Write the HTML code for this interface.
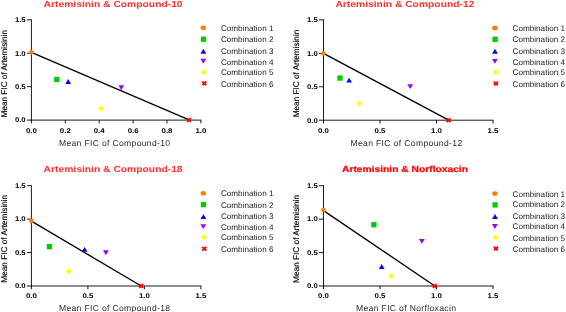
<!DOCTYPE html>
<html><head><meta charset="utf-8"><title>FIC isobolograms</title>
<style>
html,body{margin:0;padding:0;background:#fff;}
svg{display:block;filter:blur(0.35px);}
text{font-family:"Liberation Sans",sans-serif;text-rendering:geometricPrecision;}
.t{font-size:8.8px;font-weight:bold;fill:#ff3030;}
.t2{fill:#ff0000;stroke:#ff0000;stroke-width:0.2px;}
.k{font-size:6.8px;font-weight:bold;fill:#000;}
.l{font-size:8.6px;fill:#2a2a2a;}
.y{font-size:8.3px;fill:#000;stroke:#000;stroke-width:0.15px;}
.g{font-size:8.1px;fill:#222;}
.ax{stroke:#000;stroke-width:0.9;fill:none;}
</style></head><body>
<svg width="566" height="312" viewBox="0 0 566 312">
<rect width="566" height="312" fill="#fff"/>
<g><text x="43.6" y="6.80" class="t" textLength="139" lengthAdjust="spacingAndGlyphs">Artemisinin &amp; Compound-10</text>
<rect x="54.18" y="76.86" width="5.3" height="5.3" fill="#00cc00"/>
<path d="M65.28 83.95L71.08 83.95L68.18 79.05Z" fill="#0000ff"/>
<path d="M118.34 85.37L124.14 85.37L121.24 90.27Z" fill="#9900ff"/>
<path d="M97.79 108.40L100.89 105.65L103.99 108.40L100.89 111.15Z" fill="#ffff00"/>
<path d="M31.40 19.30V120.60M30.90 120.10H201.40" class="ax"/>
<path d="M26.90 120.10H31.40" class="ax"/>
<text x="25.70" y="122.45" class="k" text-anchor="end" textLength="10.8" lengthAdjust="spacingAndGlyphs">0.0</text>
<path d="M26.90 86.67H31.40" class="ax"/>
<text x="25.70" y="89.02" class="k" text-anchor="end" textLength="10.8" lengthAdjust="spacingAndGlyphs">0.5</text>
<path d="M26.90 53.23H31.40" class="ax"/>
<text x="25.70" y="55.58" class="k" text-anchor="end" textLength="10.8" lengthAdjust="spacingAndGlyphs">1.0</text>
<path d="M26.90 19.80H31.40" class="ax"/>
<text x="25.70" y="22.15" class="k" text-anchor="end" textLength="10.8" lengthAdjust="spacingAndGlyphs">1.5</text>
<path d="M31.40 120.10V123.40" class="ax"/>
<text x="31.40" y="132.75" class="k" text-anchor="middle" textLength="10.9" lengthAdjust="spacingAndGlyphs">0.0</text>
<path d="M65.30 120.10V123.40" class="ax"/>
<text x="65.30" y="132.75" class="k" text-anchor="middle" textLength="10.9" lengthAdjust="spacingAndGlyphs">0.2</text>
<path d="M99.20 120.10V123.40" class="ax"/>
<text x="99.20" y="132.75" class="k" text-anchor="middle" textLength="10.9" lengthAdjust="spacingAndGlyphs">0.4</text>
<path d="M133.10 120.10V123.40" class="ax"/>
<text x="133.10" y="132.75" class="k" text-anchor="middle" textLength="10.9" lengthAdjust="spacingAndGlyphs">0.6</text>
<path d="M167.00 120.10V123.40" class="ax"/>
<text x="167.00" y="132.75" class="k" text-anchor="middle" textLength="10.9" lengthAdjust="spacingAndGlyphs">0.8</text>
<path d="M200.90 120.10V123.40" class="ax"/>
<text x="200.90" y="132.75" class="k" text-anchor="middle" textLength="10.9" lengthAdjust="spacingAndGlyphs">1.0</text>
<path d="M31.40 52.36L189.71 120.10" stroke="#000" stroke-width="1.35" fill="none"/>
<circle cx="31.40" cy="52.23" r="2.3" fill="#ff7f00"/>
<path d="M187.04 118.30L191.04 121.90M187.04 121.90L191.04 118.30" stroke="#ff0000" stroke-width="1.9" fill="none"/>
<text x="58.9" y="145.75" class="l" textLength="111.2" lengthAdjust="spacing">Mean FIC of Compound-10</text>
<text transform="translate(6.9 117.40) rotate(-90)" class="y" textLength="87.4" lengthAdjust="spacingAndGlyphs">Mean FIC of Artemisinin</text>
<ellipse cx="203.30" cy="27.80" rx="2.75" ry="2.3" fill="#ff7f00"/>
<text x="220.90" y="30.80" class="g" textLength="52.6" lengthAdjust="spacingAndGlyphs">Combination 1</text>
<rect x="200.85" y="36.55" width="5.3" height="5.3" fill="#00cc00"/>
<text x="220.90" y="42.30" class="g" textLength="52.6" lengthAdjust="spacingAndGlyphs">Combination 2</text>
<path d="M200.50 53.65L206.30 53.65L203.40 48.75Z" fill="#0000ff"/>
<text x="220.90" y="53.90" class="g" textLength="52.6" lengthAdjust="spacingAndGlyphs">Combination 3</text>
<path d="M200.40 58.80L206.20 58.80L203.30 63.70Z" fill="#9900ff"/>
<text x="220.90" y="64.50" class="g" textLength="52.6" lengthAdjust="spacingAndGlyphs">Combination 4</text>
<path d="M201.00 72.20L204.10 69.45L207.20 72.20L204.10 74.95Z" fill="#ffff00"/>
<text x="220.90" y="74.90" class="g" textLength="52.6" lengthAdjust="spacingAndGlyphs">Combination 5</text>
<path d="M202.30 81.50L206.30 85.10M202.30 85.10L206.30 81.50" stroke="#ff0000" stroke-width="1.9" fill="none"/>
<text x="220.90" y="86.70" class="g" textLength="52.6" lengthAdjust="spacingAndGlyphs">Combination 6</text></g>
<g><text x="335.4" y="6.90" class="t" textLength="139" lengthAdjust="spacingAndGlyphs">Artemisinin &amp; Compound-12</text>
<rect x="337.35" y="75.42" width="5.3" height="5.3" fill="#00cc00"/>
<path d="M346.25 82.58L352.05 82.58L349.15 77.68Z" fill="#0000ff"/>
<path d="M407.27 84.13L413.07 84.13L410.17 89.03Z" fill="#9900ff"/>
<path d="M356.22 103.28L359.32 100.53L362.42 103.28L359.32 106.03Z" fill="#ffff00"/>
<path d="M323.50 19.40V120.70M323.00 120.20H493.50" class="ax"/>
<path d="M319.00 120.20H323.50" class="ax"/>
<text x="317.80" y="122.55" class="k" text-anchor="end" textLength="10.8" lengthAdjust="spacingAndGlyphs">0.0</text>
<path d="M319.00 86.77H323.50" class="ax"/>
<text x="317.80" y="89.12" class="k" text-anchor="end" textLength="10.8" lengthAdjust="spacingAndGlyphs">0.5</text>
<path d="M319.00 53.33H323.50" class="ax"/>
<text x="317.80" y="55.68" class="k" text-anchor="end" textLength="10.8" lengthAdjust="spacingAndGlyphs">1.0</text>
<path d="M319.00 19.90H323.50" class="ax"/>
<text x="317.80" y="22.25" class="k" text-anchor="end" textLength="10.8" lengthAdjust="spacingAndGlyphs">1.5</text>
<path d="M323.50 120.20V123.50" class="ax"/>
<text x="323.50" y="132.85" class="k" text-anchor="middle" textLength="10.9" lengthAdjust="spacingAndGlyphs">0.0</text>
<path d="M380.00 120.20V123.50" class="ax"/>
<text x="380.00" y="132.85" class="k" text-anchor="middle" textLength="10.9" lengthAdjust="spacingAndGlyphs">0.5</text>
<path d="M436.50 120.20V123.50" class="ax"/>
<text x="436.50" y="132.85" class="k" text-anchor="middle" textLength="10.9" lengthAdjust="spacingAndGlyphs">1.0</text>
<path d="M493.00 120.20V123.50" class="ax"/>
<text x="493.00" y="132.85" class="k" text-anchor="middle" textLength="10.9" lengthAdjust="spacingAndGlyphs">1.5</text>
<path d="M323.50 53.33L448.70 120.20" stroke="#000" stroke-width="1.35" fill="none"/>
<circle cx="323.50" cy="53.33" r="2.3" fill="#ff7f00"/>
<path d="M446.70 118.40L450.70 122.00M446.70 122.00L450.70 118.40" stroke="#ff0000" stroke-width="1.9" fill="none"/>
<text x="350.4" y="145.85" class="l" textLength="111.8" lengthAdjust="spacing">Mean FIC of Compound-12</text>
<text transform="translate(298.6 117.30) rotate(-90)" class="y" textLength="87.6" lengthAdjust="spacingAndGlyphs">Mean FIC of Artemisinin</text>
<ellipse cx="494.90" cy="27.90" rx="2.75" ry="2.3" fill="#ff7f00"/>
<text x="512.50" y="30.90" class="g" textLength="52.6" lengthAdjust="spacingAndGlyphs">Combination 1</text>
<rect x="492.45" y="36.65" width="5.3" height="5.3" fill="#00cc00"/>
<text x="512.50" y="42.40" class="g" textLength="52.6" lengthAdjust="spacingAndGlyphs">Combination 2</text>
<path d="M492.10 53.75L497.90 53.75L495.00 48.85Z" fill="#0000ff"/>
<text x="512.50" y="54.00" class="g" textLength="52.6" lengthAdjust="spacingAndGlyphs">Combination 3</text>
<path d="M492.00 58.90L497.80 58.90L494.90 63.80Z" fill="#9900ff"/>
<text x="512.50" y="64.60" class="g" textLength="52.6" lengthAdjust="spacingAndGlyphs">Combination 4</text>
<path d="M492.60 72.30L495.70 69.55L498.80 72.30L495.70 75.05Z" fill="#ffff00"/>
<text x="512.50" y="75.00" class="g" textLength="52.6" lengthAdjust="spacingAndGlyphs">Combination 5</text>
<path d="M493.90 81.60L497.90 85.20M493.90 85.20L497.90 81.60" stroke="#ff0000" stroke-width="1.9" fill="none"/>
<text x="512.50" y="86.80" class="g" textLength="52.6" lengthAdjust="spacingAndGlyphs">Combination 6</text></g>
<g><text x="43.6" y="172.00" class="t" textLength="139" lengthAdjust="spacingAndGlyphs">Artemisinin &amp; Compound-18</text>
<rect x="46.72" y="244.03" width="5.3" height="5.3" fill="#00cc00"/>
<path d="M81.72 251.86L87.52 251.86L84.62 246.96Z" fill="#0000ff"/>
<path d="M102.97 250.27L108.77 250.27L105.87 255.17Z" fill="#9900ff"/>
<path d="M65.48 271.29L68.58 268.54L71.68 271.29L68.58 274.04Z" fill="#ffff00"/>
<path d="M31.40 185.20V286.50M30.90 286.00H201.40" class="ax"/>
<path d="M26.90 286.00H31.40" class="ax"/>
<text x="25.70" y="288.35" class="k" text-anchor="end" textLength="10.8" lengthAdjust="spacingAndGlyphs">0.0</text>
<path d="M26.90 252.57H31.40" class="ax"/>
<text x="25.70" y="254.92" class="k" text-anchor="end" textLength="10.8" lengthAdjust="spacingAndGlyphs">0.5</text>
<path d="M26.90 219.13H31.40" class="ax"/>
<text x="25.70" y="221.48" class="k" text-anchor="end" textLength="10.8" lengthAdjust="spacingAndGlyphs">1.0</text>
<path d="M26.90 185.70H31.40" class="ax"/>
<text x="25.70" y="188.05" class="k" text-anchor="end" textLength="10.8" lengthAdjust="spacingAndGlyphs">1.5</text>
<path d="M31.40 286.00V289.30" class="ax"/>
<text x="31.40" y="298.05" class="k" text-anchor="middle" textLength="10.9" lengthAdjust="spacingAndGlyphs">0.0</text>
<path d="M87.90 286.00V289.30" class="ax"/>
<text x="87.90" y="298.05" class="k" text-anchor="middle" textLength="10.9" lengthAdjust="spacingAndGlyphs">0.5</text>
<path d="M144.40 286.00V289.30" class="ax"/>
<text x="144.40" y="298.05" class="k" text-anchor="middle" textLength="10.9" lengthAdjust="spacingAndGlyphs">1.0</text>
<path d="M200.90 286.00V289.30" class="ax"/>
<text x="200.90" y="298.05" class="k" text-anchor="middle" textLength="10.9" lengthAdjust="spacingAndGlyphs">1.5</text>
<path d="M31.40 221.14L141.24 286.00" stroke="#000" stroke-width="1.35" fill="none"/>
<circle cx="31.40" cy="220.81" r="2.3" fill="#ff7f00"/>
<path d="M139.24 284.20L143.24 287.80M139.24 287.80L143.24 284.20" stroke="#ff0000" stroke-width="1.9" fill="none"/>
<text x="58.9" y="311.05" class="l" textLength="111.2" lengthAdjust="spacing">Mean FIC of Compound-18</text>
<text transform="translate(6.9 282.70) rotate(-90)" class="y" textLength="87.9" lengthAdjust="spacingAndGlyphs">Mean FIC of Artemisinin</text>
<ellipse cx="203.30" cy="193.20" rx="2.75" ry="2.3" fill="#ff7f00"/>
<text x="220.90" y="196.20" class="g" textLength="52.6" lengthAdjust="spacingAndGlyphs">Combination 1</text>
<rect x="200.85" y="201.95" width="5.3" height="5.3" fill="#00cc00"/>
<text x="220.90" y="207.70" class="g" textLength="52.6" lengthAdjust="spacingAndGlyphs">Combination 2</text>
<path d="M200.50 219.05L206.30 219.05L203.40 214.15Z" fill="#0000ff"/>
<text x="220.90" y="219.30" class="g" textLength="52.6" lengthAdjust="spacingAndGlyphs">Combination 3</text>
<path d="M200.40 224.20L206.20 224.20L203.30 229.10Z" fill="#9900ff"/>
<text x="220.90" y="229.90" class="g" textLength="52.6" lengthAdjust="spacingAndGlyphs">Combination 4</text>
<path d="M201.00 237.60L204.10 234.85L207.20 237.60L204.10 240.35Z" fill="#ffff00"/>
<text x="220.90" y="240.30" class="g" textLength="52.6" lengthAdjust="spacingAndGlyphs">Combination 5</text>
<path d="M202.30 246.90L206.30 250.50M202.30 250.50L206.30 246.90" stroke="#ff0000" stroke-width="1.9" fill="none"/>
<text x="220.90" y="252.10" class="g" textLength="52.6" lengthAdjust="spacingAndGlyphs">Combination 6</text></g>
<g><text x="342" y="172.20" class="t t2" textLength="126" lengthAdjust="spacingAndGlyphs">Artemisinin &amp; Norfloxacin</text>
<rect x="371.25" y="222.10" width="5.3" height="5.3" fill="#00cc00"/>
<path d="M378.80 268.98L384.59 268.98L381.69 264.08Z" fill="#0000ff"/>
<path d="M418.91 238.90L424.71 238.90L421.81 243.80Z" fill="#9900ff"/>
<path d="M388.20 276.30L391.30 273.55L394.40 276.30L391.30 279.05Z" fill="#ffff00"/>
<path d="M323.50 185.20V286.50M323.00 286.00H493.50" class="ax"/>
<path d="M319.00 286.00H323.50" class="ax"/>
<text x="317.80" y="288.35" class="k" text-anchor="end" textLength="10.8" lengthAdjust="spacingAndGlyphs">0.0</text>
<path d="M319.00 252.57H323.50" class="ax"/>
<text x="317.80" y="254.92" class="k" text-anchor="end" textLength="10.8" lengthAdjust="spacingAndGlyphs">0.5</text>
<path d="M319.00 219.13H323.50" class="ax"/>
<text x="317.80" y="221.48" class="k" text-anchor="end" textLength="10.8" lengthAdjust="spacingAndGlyphs">1.0</text>
<path d="M319.00 185.70H323.50" class="ax"/>
<text x="317.80" y="188.05" class="k" text-anchor="end" textLength="10.8" lengthAdjust="spacingAndGlyphs">1.5</text>
<path d="M323.50 286.00V289.30" class="ax"/>
<text x="323.50" y="298.05" class="k" text-anchor="middle" textLength="10.9" lengthAdjust="spacingAndGlyphs">0.0</text>
<path d="M380.00 286.00V289.30" class="ax"/>
<text x="380.00" y="298.05" class="k" text-anchor="middle" textLength="10.9" lengthAdjust="spacingAndGlyphs">0.5</text>
<path d="M436.50 286.00V289.30" class="ax"/>
<text x="436.50" y="298.05" class="k" text-anchor="middle" textLength="10.9" lengthAdjust="spacingAndGlyphs">1.0</text>
<path d="M493.00 286.00V289.30" class="ax"/>
<text x="493.00" y="298.05" class="k" text-anchor="middle" textLength="10.9" lengthAdjust="spacingAndGlyphs">1.5</text>
<path d="M323.50 210.57L434.81 286.00" stroke="#000" stroke-width="1.35" fill="none"/>
<circle cx="323.50" cy="209.97" r="2.3" fill="#ff7f00"/>
<path d="M432.81 284.20L436.81 287.80M432.81 287.80L436.81 284.20" stroke="#ff0000" stroke-width="1.9" fill="none"/>
<text x="356" y="311.05" class="l" textLength="100" lengthAdjust="spacing">Mean FIC of Norfloxacin</text>
<text transform="translate(298.9 282.90) rotate(-90)" class="y" textLength="88.0" lengthAdjust="spacingAndGlyphs">Mean FIC of Artemisinin</text>
<ellipse cx="494.90" cy="193.50" rx="2.75" ry="2.3" fill="#ff7f00"/>
<text x="512.50" y="196.50" class="g" textLength="52.6" lengthAdjust="spacingAndGlyphs">Combination 1</text>
<rect x="492.45" y="202.25" width="5.3" height="5.3" fill="#00cc00"/>
<text x="512.50" y="207.30" class="g" textLength="52.6" lengthAdjust="spacingAndGlyphs">Combination 2</text>
<path d="M492.10 218.95L497.90 218.95L495.00 214.05Z" fill="#0000ff"/>
<text x="512.50" y="219.40" class="g" textLength="52.6" lengthAdjust="spacingAndGlyphs">Combination 3</text>
<path d="M492.00 224.10L497.80 224.10L494.90 229.00Z" fill="#9900ff"/>
<text x="512.50" y="229.10" class="g" textLength="52.6" lengthAdjust="spacingAndGlyphs">Combination 4</text>
<path d="M492.60 237.50L495.70 234.75L498.80 237.50L495.70 240.25Z" fill="#ffff00"/>
<text x="512.50" y="240.50" class="g" textLength="52.6" lengthAdjust="spacingAndGlyphs">Combination 5</text>
<path d="M493.90 246.80L497.90 250.40M493.90 250.40L497.90 246.80" stroke="#ff0000" stroke-width="1.9" fill="none"/>
<text x="512.50" y="252.00" class="g" textLength="52.6" lengthAdjust="spacingAndGlyphs">Combination 6</text></g>
</svg>
</body></html>
